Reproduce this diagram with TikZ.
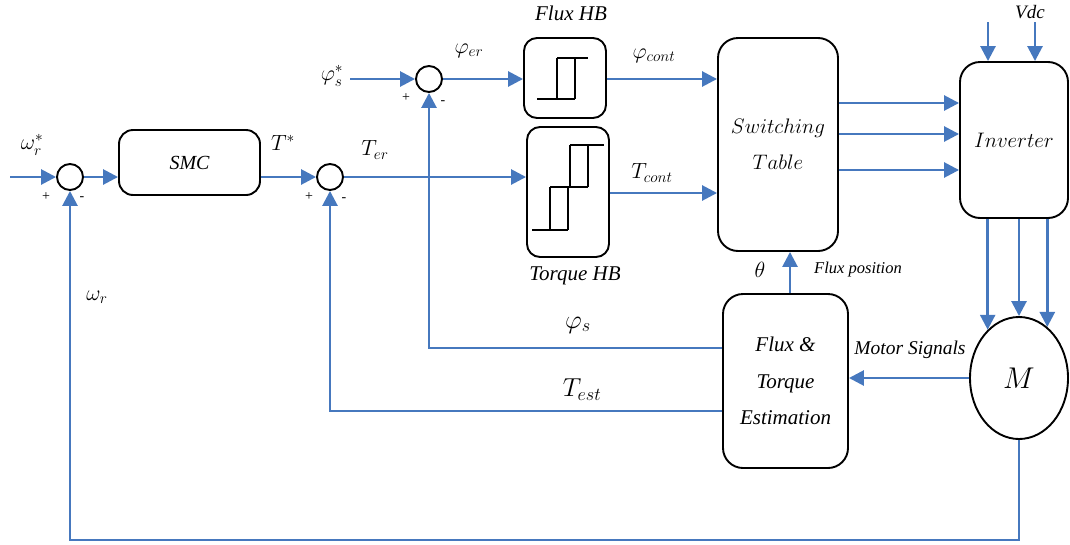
\RequirePackage{fix-cm}
\documentclass[tikz,border=0pt]{standalone}
\usepackage{fontspec}
\setmainfont{Liberation Serif}
\usetikzlibrary{arrows.meta,shapes.geometric}
\definecolor{lblue}{RGB}{70,120,190}
\begin{document}
\begin{tikzpicture}[x=1pt,y=-1pt,
  blk/.style={draw=black,line width=1.9pt,rounded corners=14pt,inner sep=0pt},
  sumn/.style={circle,draw=black,line width=1.9pt,minimum size=26pt,inner sep=0pt},
  wire/.style={draw=lblue,line width=2.7pt},
  sig/.style={wire,-{Triangle[length=15pt,width=15pt]}},
  hys/.style={draw=black,line width=1.9pt},
  lbl/.style={inner sep=0pt,font=\fontsize{22}{25}\selectfont},
  big/.style={inner sep=0pt,font=\fontsize{26}{30}\selectfont},
  sgn/.style={inner sep=0pt,font=\fontsize{14}{16}\selectfont},
  itl/.style={inner sep=0pt,font=\fontsize{21}{24}\selectfont\itshape}]
\useasboundingbox (0,0) rectangle (1070,544);
% blocks
\node[blk,minimum width=141pt,minimum height=65pt] (smc) at (189.5,162.5) {\fontsize{20}{24}\selectfont\itshape SMC};
\node[blk,rounded corners=13pt,minimum width=82pt,minimum height=80pt] (fhb) at (565,78) {};
\node[blk,rounded corners=13pt,minimum width=82pt,minimum height=130pt] (thb) at (568,192) {};
\node[blk,rounded corners=20pt,minimum width=120pt,minimum height=213pt,align=center,font=\fontsize{21}{36}\selectfont] (st) at (778,144.5) {$Switching$\\$Table$};
\node[blk,rounded corners=20pt,minimum width=108pt,minimum height=156pt,font=\fontsize{21}{24}\selectfont] (inv) at (1014,140) {$Inverter$};
\node[blk,rounded corners=20pt,minimum width=125pt,minimum height=174pt,align=center,font=\fontsize{21}{36.5}\selectfont\itshape] (ft) at (785.5,381) {Flux \&\\Torque\\Estimation};
\node[ellipse,draw=black,line width=1.9pt,minimum width=98pt,minimum height=122pt,inner sep=0pt,font=\fontsize{30}{34}\selectfont] (mot) at (1019,378) {$M$};
% summing junctions
\node[sumn] (s1) at (70,177) {};
\node[sumn] (s2) at (330,177) {};
\node[sumn] (s3) at (429,79) {};
% hysteresis symbols
\draw[hys] (537,99) -- (575,99) (557,99) -- (557,58) (575,99) -- (575,58) (557,58) -- (588,58);
\draw[hys] (532,230) -- (568,230) (550,230) -- (550,187) (568,230) -- (568,187)
  (550,187) -- (588,187) (570,187) -- (570,145) (588,187) -- (588,145) (570,145) -- (604,145);
% labels
\node[lbl] (lwrs) at (32,145) {$\omega_r^*$};
\node[lbl] (lwr) at (97,297) {$\omega_r$};
\node[lbl] (lts) at (283,143) {$T^*$};
\node[lbl] (lter) at (375,150) {$T_{er}$};
\node[lbl] (lfss) at (332,76) {$\varphi_s^*$};
\node[lbl] (lfer) at (469,51) {$\varphi_{er}$};
\node[lbl] (lfc) at (654,56) {$\varphi_{cont}$};
\node[lbl] (ltc) at (652,173) {$T_{cont}$};
\node[lbl] (lth) at (760,270) {$\theta$};
\node[big] (lfs) at (578,325) {$\varphi_s$};
\node[big] (lte) at (582,390) {$T_{est}$};
\node[itl] (lfhb) at (571,13) {Flux HB};
\node[itl] (lthb) at (575,276) {Torque HB};
\node[inner sep=0pt,font=\fontsize{19}{22}\selectfont\itshape] (lvdc) at (1030,12) {Vdc};
\node[inner sep=0pt,font=\fontsize{16.5}{19}\selectfont\itshape] (lfp) at (858,270) {Flux position};
\node[inner sep=0pt,font=\fontsize{19.5}{22}\selectfont\itshape] (lms) at (910,350) {Motor Signals};
\node[sgn] (p1) at (46,197) {+};
\node[sgn] (m1) at (82,199) {-};
\node[sgn] (p2) at (309,197) {+};
\node[sgn] (m2) at (344,200) {-};
\node[sgn] (p3) at (406,98) {+};
\node[sgn] (m3) at (443,103) {-};
% coordinates
\coordinate (in1) at (10,177);
\coordinate (in3) at (350,79);
\coordinate (bot) at (0,540);
\coordinate (tx) at (790,0);
\coordinate (v1) at (988,22);
\coordinate (v2) at (1035,22);
% connectors
\draw[sig] (in1) -- (s1.west);
\draw[sig] (s1.east) -- (s1.east -| smc.west);
\draw[sig] (s2.west -| smc.east) -- (s2.west);
\draw[sig] (s2.east) -- (s2.east -| thb.west);
\draw[sig] (in3) -- (s3.west);
\draw[sig] (s3.east) -- (s3.east -| fhb.west);
\draw[sig] (s3.east -| fhb.east) -- (s3.east -| st.west);
\draw[sig] (thb.east |- 0,193) -- (st.west |- 0,193);
\draw[sig] (st.east |- 0,103) -- (inv.west |- 0,103);
\draw[sig] (st.east |- 0,134) -- (inv.west |- 0,134);
\draw[sig] (st.east |- 0,170) -- (inv.west |- 0,170);
\draw[sig] (v1) -- (v1 |- inv.north);
\draw[sig] (v2) -- (v2 |- inv.north);
\draw[sig] (inv.south -| mot.123) -- (mot.123);
\draw[sig] (inv.south -| mot.north) -- (mot.north);
\draw[sig] (inv.south -| mot.61) -- (mot.61);
\draw[sig] (mot.west) -- (mot.west -| ft.east);
\draw[sig] (ft.north -| tx) -- (st.south -| tx);
\draw[sig] (ft.west) ++(0,-33) -| (s3.south);
\draw[sig] (ft.west) ++(0,30) -| (s2.south);
\draw[sig] (mot.south) -- (mot.south |- bot) -| (s1.south);
\end{tikzpicture}
\end{document}
